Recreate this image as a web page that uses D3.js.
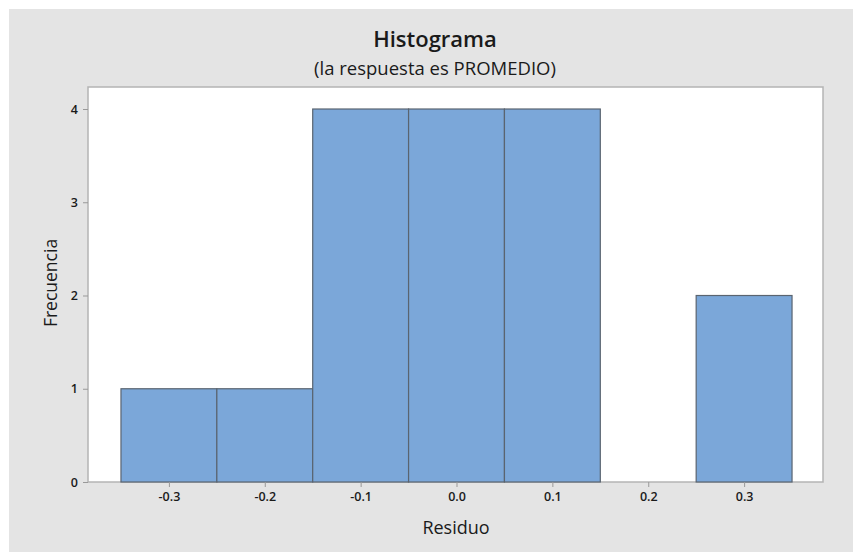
<!DOCTYPE html>
<html>
<head>
<meta charset="utf-8">
<script src="https://cdn.jsdelivr.net/npm/d3@7"></script>
<style>
  body { margin: 0; background: #fff; }
  text { font-family: "Open Sans", "Noto Sans", sans-serif; fill: #1a1a1a; }
</style>
</head>
<body>
<svg id="chart"></svg>
<script>
// histogram data: bin edges and counts
const binStart = [-0.35, -0.25, -0.15, -0.05, 0.05, 0.15, 0.25];
const binEnd   = [-0.25, -0.15, -0.05, 0.05, 0.15, 0.25, 0.35];
const counts   = [1, 1, 4, 4, 4, 0, 2];
const xTicks = [-0.3, -0.2, -0.1, 0.0, 0.1, 0.2, 0.3];
const yTicks = [0, 1, 2, 3, 4];

const width = 853, height = 552;
const plot = {left: 88, top: 87, right: 823, bottom: 482};

const svg = d3.select("#chart").attr("width", width).attr("height", height);

svg.append("rect")
  .attr("x", 9).attr("y", 9)
  .attr("width", width - 9).attr("height", height - 9)
  .attr("fill", "#e4e4e4");

svg.append("rect")
  .attr("x", plot.left).attr("y", plot.top)
  .attr("width", plot.right - plot.left).attr("height", plot.bottom - plot.top)
  .attr("fill", "#fff").attr("stroke", "#b4b4b4").attr("stroke-width", 1.5);

const x = d3.scaleLinear().domain([-0.3844, 0.3823]).range([plot.left, plot.right]);
const y = d3.scaleLinear().domain([0, 4.236]).range([plot.bottom, plot.top]);

const bins = counts.map((c, i) => ({x0: binStart[i], x1: binEnd[i], n: c}));

svg.append("g").selectAll("rect")
  .data(bins.filter(d => d.n > 0))
  .enter().append("rect")
  .attr("x", d => x(d.x0))
  .attr("y", d => y(d.n))
  .attr("width", d => x(d.x1) - x(d.x0))
  .attr("height", d => y(0) - y(d.n))
  .attr("fill", "#7ba7d9")
  .attr("stroke", "#5a6470")
  .attr("stroke-width", 1.2);

// plain hyphen for negatives, like the original
const fmtX = d => d3.format(".1f")(d).replace("\u2212", "-");

const xAxis = svg.append("g")
  .attr("transform", `translate(0,${plot.bottom})`)
  .call(d3.axisBottom(x).tickValues(xTicks).tickFormat(fmtX).tickSize(5).tickPadding(5));

const yAxis = svg.append("g")
  .attr("transform", `translate(${plot.left},0)`)
  .call(d3.axisLeft(y).tickValues(yTicks).tickFormat(d3.format("d")).tickSize(5).tickPadding(5));

[xAxis, yAxis].forEach(a => {
  a.select(".domain").remove();
  a.selectAll(".tick line").attr("stroke", "#999");
  a.selectAll(".tick text").attr("font-size", 12.5).attr("font-weight", 600).attr("fill", "#222");
});

svg.append("text")
  .attr("x", 435).attr("y", 47)
  .attr("text-anchor", "middle")
  .attr("font-size", 22).attr("font-weight", 600)
  .text("Histograma");

svg.append("text")
  .attr("x", 435).attr("y", 75)
  .attr("text-anchor", "middle")
  .attr("font-size", 18.5)
  .text("(la respuesta es PROMEDIO)");

svg.append("text")
  .attr("x", 456).attr("y", 534)
  .attr("text-anchor", "middle")
  .attr("font-size", 18)
  .text("Residuo");

svg.append("text")
  .attr("transform", "translate(57,283) rotate(-90)")
  .attr("text-anchor", "middle")
  .attr("font-size", 17.5)
  .text("Frecuencia");
</script>
</body>
</html>
